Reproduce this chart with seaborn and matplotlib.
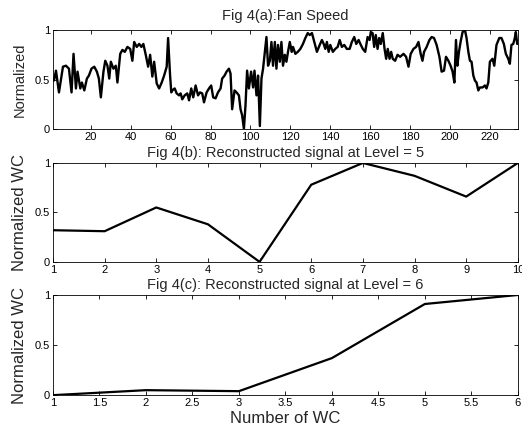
import seaborn as sns
import numpy as np
import matplotlib.pyplot as plt

# Fig 4(a): fan speed
fan_x = [1.5, 2.5, 4, 6, 7.5, 9, 10.3, 11.3, 12.5, 13.3, 14.7, 15.5, 16.7, 18, 19, 20.3,
         21.7, 23, 24, 25, 26.3, 27.2, 28.3, 29.2, 30, 31.3, 32.5, 33.3, 34.7, 35.8, 37,
         38.3, 39.7, 40.8, 41.7, 43, 44.2, 45.3, 46.3, 47.5, 48.7, 49.7, 50.8, 51.7, 53,
         54.2, 55.5, 56.7, 58, 58.7, 59.7, 60.3,
         60.8, 62, 63, 64.2, 65, 65.8, 67, 68.3, 69.2, 70.3, 71.3, 72.5, 73.7, 74.7, 75.8,
         76.7, 78, 79.2, 80.3, 81.3, 82.5, 83.7, 85, 85.8, 87, 88, 89.2, 90, 90.8, 92, 93,
         94.2, 95, 95.8, 96.7, 97.5, 98.3, 99.2, 100.3, 101.3, 102, 103, 103.8, 104.7,
         105.5, 106.3, 107.2, 108, 108.8, 109.7, 110.5, 111.3, 112.2, 113, 113.8, 114.7,
         115.5, 116.3, 117.2, 118, 118.8, 119.7, 120.7,
         121.3, 122.5, 123.7, 125, 126.3, 127.5, 128.7, 129.7, 130.8, 132, 133.3, 134.7,
         135.8, 136.7, 137.5, 138.3, 139.2, 140, 141.3, 142.5, 143.7, 144.7, 145.8, 147,
         148.3, 149.7, 150.8, 152, 153, 154.2, 155.3, 156.3, 157.5, 158.7, 159.7, 160.3,
         161.2, 162, 162.8, 163.7, 164.5, 165.3, 166.3, 167.2, 168, 168.8, 169.7, 170.5,
         171.3, 172.5, 173.7,
         175, 176.7, 178, 179.2, 180.3, 181.7, 183, 184.2, 185.3, 186.2, 187, 188.3, 189.7,
         190.8, 192, 193.3, 194.7, 195.8, 197, 198, 199.2, 200.3, 201.3, 202.2, 203, 203.7,
         204.5, 205.3, 206.3, 207.5, 208.3, 209.2, 210, 210.8, 211.7, 212.5, 213.3, 214.2,
         215, 216.3, 217.5, 218.3, 219.2, 220, 221.3, 222.2, 223.3, 224.7, 225.8, 227, 228,
         229.2, 230, 230.8, 231.7, 232.5, 233, 233.7]
fan_y = [0.49, 0.59, 0.37, 0.63, 0.64, 0.61, 0.37, 0.76, 0.41, 0.58, 0.41, 0.47, 0.39, 0.51,
         0.54, 0.61, 0.63, 0.58, 0.51, 0.32, 0.58, 0.69, 0.64, 0.51, 0.68, 0.61, 0.64, 0.47,
         0.76, 0.80, 0.78, 0.83, 0.81, 0.69, 0.88, 0.83, 0.86, 0.83, 0.86, 0.75, 0.63, 0.75,
         0.53, 0.68, 0.46, 0.41, 0.47, 0.54, 0.63, 0.92, 0.54, 0.37,
         0.39, 0.41, 0.36, 0.34, 0.36, 0.30, 0.34, 0.36, 0.29, 0.41, 0.32, 0.44, 0.34, 0.37,
         0.36, 0.27, 0.37, 0.41, 0.44, 0.32, 0.31, 0.37, 0.41, 0.51, 0.54, 0.58, 0.61, 0.56,
         0.20, 0.39, 0.37, 0.34, 0.20, 0.14, 0.00, 0.24, 0.59, 0.41, 0.58, 0.42, 0.59, 0.34,
         0.54, 0.03, 0.51, 0.61, 0.78, 0.93, 0.64, 0.69, 0.88, 0.64, 0.88, 0.61, 0.85, 0.68,
         0.88, 0.64, 0.75, 0.68, 0.78, 0.88, 0.78,
         0.83, 0.76, 0.78, 0.81, 0.86, 0.92, 0.97, 0.95, 0.97, 0.88, 0.78, 0.85, 0.90, 0.86,
         0.81, 0.88, 0.78, 0.85, 0.78, 0.81, 0.83, 0.90, 0.83, 0.85, 0.81, 0.81, 0.88, 0.93,
         0.86, 0.90, 0.85, 0.81, 0.78, 0.93, 0.90, 0.98, 0.97, 0.83, 0.95, 0.81, 0.92, 0.86,
         0.97, 0.81, 0.71, 0.81, 0.71, 0.78, 0.71, 0.69, 0.75,
         0.73, 0.76, 0.73, 0.63, 0.76, 0.81, 0.83, 0.88, 0.76, 0.69, 0.78, 0.83, 0.90, 0.93,
         0.92, 0.85, 0.73, 0.58, 0.59, 0.73, 0.69, 0.64, 0.58, 0.47, 0.90, 0.64, 0.78, 0.88,
         0.98, 1.00, 0.92, 0.78, 0.69, 0.68, 0.54, 0.49, 0.47, 0.39, 0.42, 0.42, 0.44, 0.41,
         0.47, 0.68, 0.71, 0.64, 0.85, 0.92, 0.92, 0.86, 0.76, 0.71, 0.66, 0.85, 0.86, 0.92,
         0.98, 0.86]
fan_xticks = [20, 40, 60, 80, 100, 120, 140, 160, 180, 200, 220]

# Fig 4(b): level 5
wc5_x = [1, 2, 3, 4, 5, 6, 7, 8, 9, 10]
wc5_y = [0.32, 0.31, 0.55, 0.38, 0.0, 0.78, 1.0, 0.87, 0.66, 1.0]

# Fig 4(c): level 6
wc6_x = [1, 2, 3, 4, 5, 6]
wc6_y = [0.0, 0.05, 0.04, 0.37, 0.91, 1.0]
wc6_xticks = [1, 1.5, 2, 2.5, 3, 3.5, 4, 4.5, 5, 5.5, 6]

sns.set_style("ticks")
plt.rcParams['font.family'] = ['Liberation Sans', 'DejaVu Sans']

fig = plt.figure(figsize=(5.22, 4.30), dpi=100)
ax1 = fig.add_axes([0.1015, 0.700, 0.8905, 0.230])
ax2 = fig.add_axes([0.1015, 0.391, 0.8905, 0.230])
ax3 = fig.add_axes([0.1015, 0.081, 0.8905, 0.233])

sns.lineplot(x=fan_x, y=fan_y, ax=ax1, color='black', lw=1.7, estimator=None, sort=False)
sns.lineplot(x=wc5_x, y=wc5_y, ax=ax2, color='black', lw=1.6, estimator=None, sort=False)
sns.lineplot(x=wc6_x, y=wc6_y, ax=ax3, color='black', lw=1.6, estimator=None, sort=False)

ax1.set_xlim(1, 234)
ax1.set_xticks(fan_xticks)
ax2.set_xlim(1, 10)
ax2.set_xticks(wc5_x)
ax3.set_xlim(1, 6)
ax3.set_xticks(wc6_xticks)
ax3.set_xticklabels([f"{t:g}" for t in wc6_xticks])

for ax in (ax1, ax2, ax3):
    ax.set_ylim(0, 1)
    ax.set_yticks([0, 0.5, 1])
    ax.set_yticklabels(['0', '0.5', '1'])
    ax.tick_params(direction='in', top=True, right=True, length=3, width=0.6,
                   labelsize=8, pad=2, colors='black')
    for s in ax.spines.values():
        s.set_linewidth(0.6)
        s.set_color('black')

ax1.set_title("Fig 4(a):Fan Speed", fontsize=10.5, pad=7)
ax2.set_title("Fig 4(b): Reconstructed signal at Level = 5", fontsize=10.5, pad=4)
ax3.set_title("Fig 4(c): Reconstructed signal at Level = 6", fontsize=10.5, pad=4)
ax1.set_ylabel("Normalized", fontsize=10.5, labelpad=6)
ax2.set_ylabel("Normalized WC", fontsize=12, labelpad=6)
ax3.set_ylabel("Normalized WC", fontsize=12, labelpad=6)
ax3.set_xlabel("Number of WC", fontsize=12, labelpad=2)

fig.savefig("out.png", dpi=100)
